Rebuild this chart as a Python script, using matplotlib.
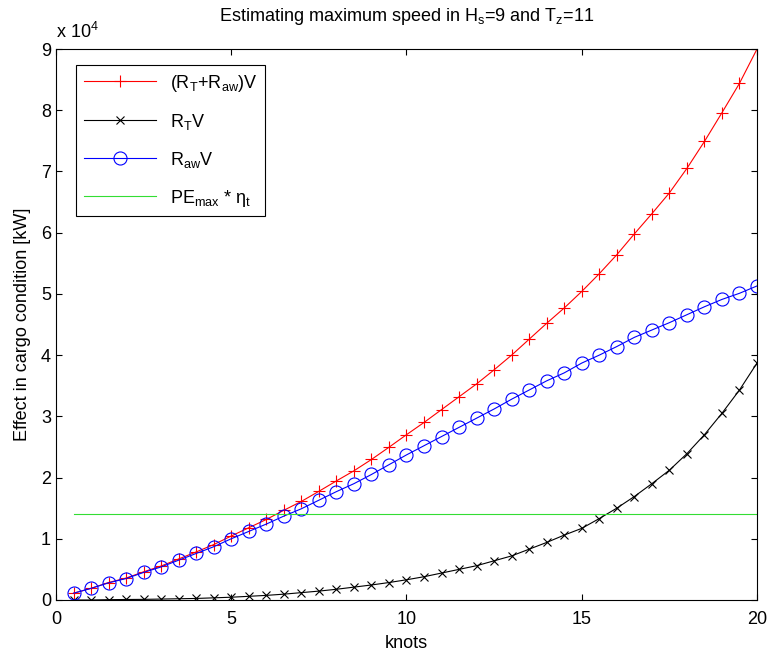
import numpy as np
import matplotlib
matplotlib.use("Agg")
import matplotlib.pyplot as plt

plt.rcParams['font.family'] = ['Liberation Sans', 'DejaVu Sans']
plt.rcParams['mathtext.fontset'] = 'custom'
plt.rcParams['mathtext.rm'] = 'Liberation Sans'
plt.rcParams['mathtext.it'] = 'Liberation Sans'
plt.rcParams['mathtext.default'] = 'regular'

# speed in knots
knots = [0.5, 1.0, 1.5, 2.0, 2.5, 3.0, 3.5, 4.0, 4.5, 5.0,
         5.5, 6.0, 6.5, 7.0, 7.5, 8.0, 8.5, 9.0, 9.5, 10.0,
         10.5, 11.0, 11.5, 12.0, 12.5, 13.0, 13.5, 14.0, 14.5, 15.0,
         15.5, 16.0, 16.5, 17.0, 17.5, 18.0, 18.5, 19.0, 19.5, 20.0]

# effect values, in units of 1e4 kW
rt_v = [0.00, 0.00, 0.005, 0.008, 0.01, 0.015, 0.02, 0.025, 0.035, 0.045,
        0.06, 0.075, 0.095, 0.12, 0.145, 0.175, 0.21, 0.245, 0.285, 0.33,
        0.38, 0.44, 0.50, 0.56, 0.64, 0.72, 0.83, 0.94, 1.06, 1.17,
        1.33, 1.50, 1.69, 1.90, 2.12, 2.39, 2.70, 3.05, 3.43, 3.87]
raw_v = [0.11, 0.19, 0.28, 0.35, 0.45, 0.54, 0.65, 0.76, 0.87, 1.00,
         1.12, 1.24, 1.37, 1.49, 1.63, 1.77, 1.90, 2.05, 2.21, 2.37,
         2.52, 2.67, 2.82, 2.97, 3.12, 3.28, 3.43, 3.58, 3.71, 3.87,
         4.00, 4.14, 4.29, 4.41, 4.53, 4.66, 4.79, 4.91, 5.01, 5.13]
total_v = [0.11, 0.19, 0.285, 0.358, 0.46, 0.555, 0.67, 0.785, 0.905, 1.045,
           1.18, 1.315, 1.465, 1.61, 1.775, 1.945, 2.11, 2.295, 2.495, 2.70,
           2.90, 3.11, 3.32, 3.53, 3.76, 4.00, 4.26, 4.52, 4.77, 5.04,
           5.33, 5.64, 5.98, 6.31, 6.65, 7.05, 7.49, 7.96, 8.44, 9.00]
pe_max = 1.4

fs = 13

fig = plt.figure(figsize=(7.69, 6.54), dpi=100)
ax = fig.add_axes([0.0728, 0.0826, 0.9116, 0.8424])

ax.plot(knots, total_v, color='red', marker='+', markersize=9, mew=0.8, lw=0.8,
        label='(R$_T$+R$_{aw}$)V')
ax.plot(knots, rt_v, color='black', marker='x', markersize=6, mew=0.8, lw=0.8,
        label='R$_T$V')
ax.plot(knots, raw_v, color='blue', marker='o', markersize=9.4, mfc='none', mew=0.8, lw=0.8,
        label='R$_{aw}$V')
ax.plot([knots[0], knots[-1]], [pe_max, pe_max], color='#33dd33', lw=0.8,
        label='PE$_{max}$ * $\\eta_t$')

ax.set_xlim(0, 20)
ax.set_ylim(0, 9)
ax.set_xticks([0, 5, 10, 15, 20])
ax.set_yticks(range(10))
ax.tick_params(direction='in', top=True, right=True, length=4, labelsize=fs)
ax.tick_params(axis='x', pad=8)
for s in ax.spines.values():
    s.set_linewidth(0.8)

ax.text(0, 1.012, 'x 10$^4$', transform=ax.transAxes, fontsize=fs, va='bottom', ha='left')
ax.set_title('Estimating maximum speed in H$_s$=9 and T$_z$=11', fontsize=fs, pad=20)
ax.set_xlabel('knots', fontsize=fs, labelpad=5)
ax.set_ylabel('Effect in cargo condition [kW]', fontsize=fs, labelpad=7)

leg = ax.legend(loc='upper left', fontsize=fs, handlelength=4.0, fancybox=False,
                framealpha=1, edgecolor='black', borderaxespad=0.9, labelspacing=1.0,
                bbox_to_anchor=(0.006, 1.0))
leg.get_frame().set_linewidth(0.8)

fig.savefig('out.png', dpi=100)
